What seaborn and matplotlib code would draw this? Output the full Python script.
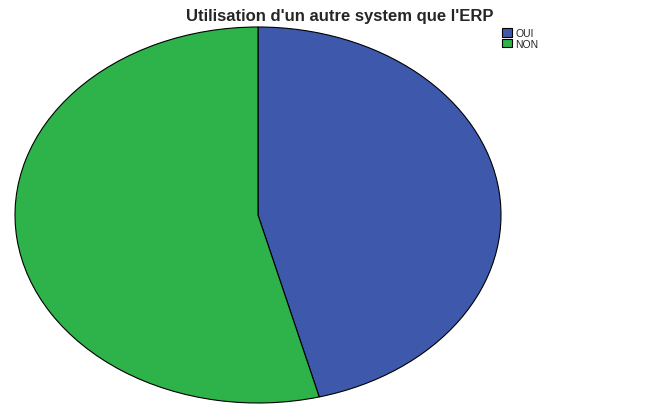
import matplotlib
matplotlib.use('Agg')
import matplotlib.pyplot as plt
import seaborn as sns

labels = ['OUI', 'NON']
counts = [17, 20]
colors = ['#3E58AC', '#2DB34A']

sns.set_style('white')
plt.rcParams['font.family'] = ['Liberation Sans', 'DejaVu Sans']

fig = plt.figure(figsize=(6.54, 4.14), dpi=100)
# ellipse box in pixels: x 15..501, y 28..404
ax = fig.add_axes([15/654, 10/414, 486/654, 376/414])
wedges, _ = ax.pie(counts, colors=colors, startangle=90, counterclock=False,
                   wedgeprops=dict(edgecolor='black', linewidth=0.8))
ax.set_aspect('auto')
ax.set_xlim(-1, 1)
ax.set_ylim(-1, 1)
ax.axis('off')

fig.text(340/654, 1 - 17/414, "Utilisation d'un autre system que l'ERP",
         ha='center', va='center', fontsize=12, fontweight='bold')

fig.legend(wedges, labels, loc='upper left', bbox_to_anchor=(502/654, 1 - 29/414),
           frameon=False, fontsize=7.5, handlelength=1.0, handleheight=0.9,
           handletextpad=0.3, labelspacing=0.05, borderpad=0, borderaxespad=0)

fig.savefig('out.png', dpi=100)
